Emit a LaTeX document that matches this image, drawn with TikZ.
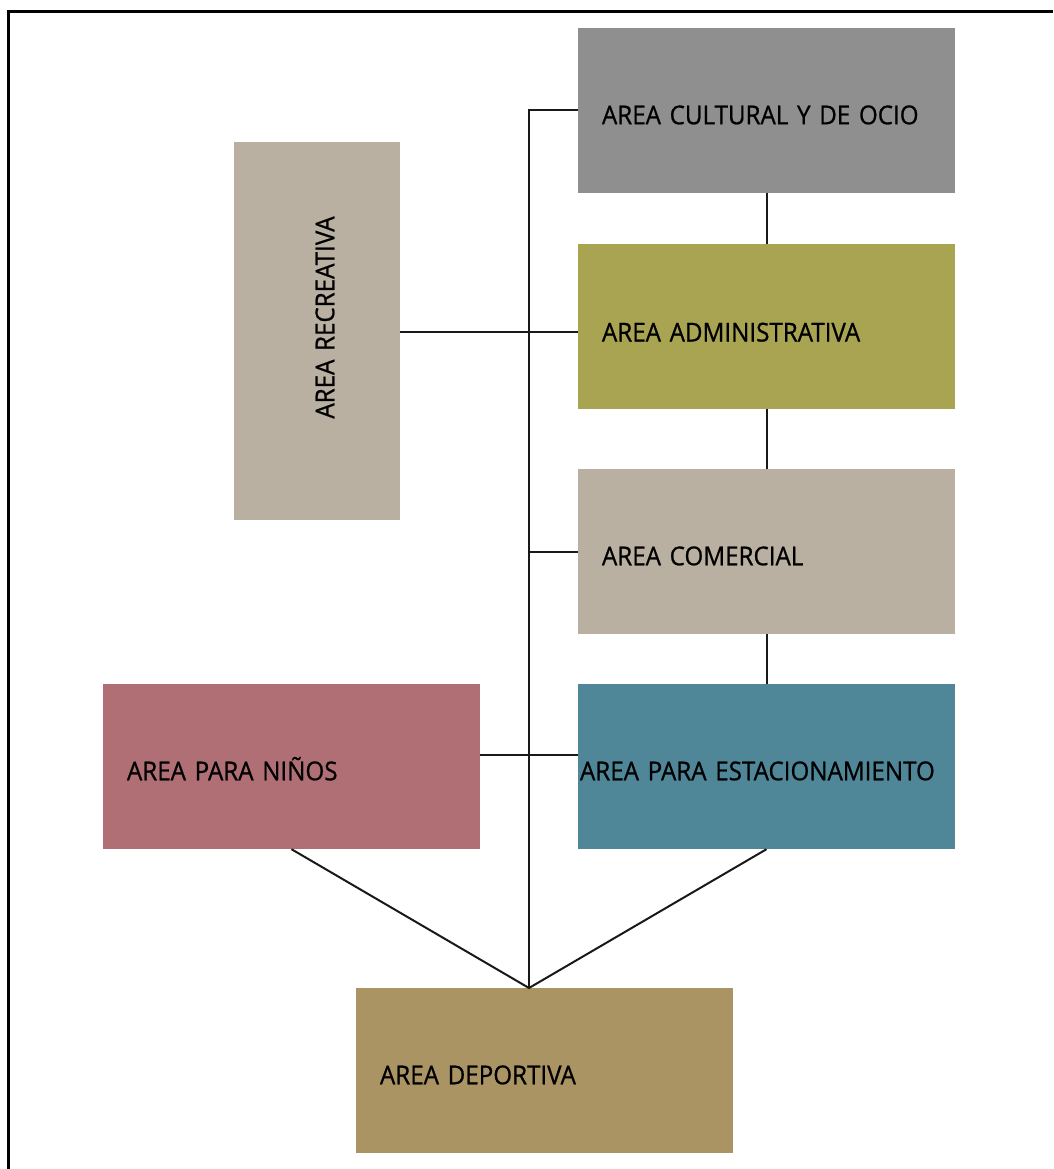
\documentclass[tikz,border=0pt]{standalone}
\usepackage{fontspec}
\setmainfont{Open Sans}[FakeStretch=0.93, FakeBold=0.8]
\usetikzlibrary{positioning,calc}
\definecolor{ocio}{RGB}{143,143,143}
\definecolor{admin}{RGB}{168,164,82}
\definecolor{arena}{RGB}{186,176,162}
\definecolor{petrol}{RGB}{79,135,153}
\definecolor{rosa}{RGB}{176,111,116}
\definecolor{ocre}{RGB}{170,148,100}

\begin{document}
\begin{tikzpicture}[x=1pt, y=-1pt,
  area/.style={minimum width=377pt, minimum height=165pt, inner xsep=24pt,
               text width=329pt, align=left, inner ysep=0pt,
               text height=27.5pt, text depth=0pt,
               font=\fontsize{26}{30}\selectfont, text=black},
  link/.style={draw=black!90, line width=2pt}]
\useasboundingbox (0,0) rectangle (1053,1169);

% --- frame, cut at right and bottom ---
\draw[line width=3.5pt] (8.5,1169) -- (8.5,11.5) -- (1053,11.5);

% --- right column ---
\node[area, fill=ocio] (cultural) at (766.5,110.5) {AREA CULTURAL Y DE OCIO};
\node[area, fill=admin, text height=30pt] (admin) at (766.5,326.5) {AREA ADMINISTRATIVA};
\node[area, fill=arena] (comercial) at (766.5,551.5) {AREA COMERCIAL};
\node[area, fill=petrol, inner xsep=2pt, text width=373pt] (parking) at (766.5,766.5)
  {AREA PARA ESTACIONAMIENTO};

% --- left side ---
\node[area, fill=arena, rotate=90, minimum width=378pt, minimum height=166pt,
      text width=330pt, align=center, text height=34.5pt]
  (recreativa) at (317,331) {\hspace*{27pt}AREA RECREATIVA};
\node[area, fill=rosa] (ninos) at (291.5,766.5) {AREA PARA NIÑOS};

% --- bottom ---
\node[area, fill=ocre] (deportiva) at (544.5,1070.5) {AREA DEPORTIVA};
\coordinate (apex) at (529,988);

% --- connectors ---
\draw[link] (cultural.west) -| (apex);
\draw[link] (comercial.west) -- (comercial.west -| apex);
\draw[link] ([yshift=-1pt]recreativa.south) -- ([yshift=-1pt]recreativa.south -| admin.west);
\draw[link] ([yshift=12pt]ninos.east) -- ([yshift=12pt]parking.west);
\draw[link] (cultural.south) -- (admin.north);
\draw[link] (admin.south) -- (comercial.north);
\draw[link] (comercial.south) -- (parking.north);
\draw[link] (ninos.south) -- (apex) -- (parking.south);
\end{tikzpicture}
\end{document}
